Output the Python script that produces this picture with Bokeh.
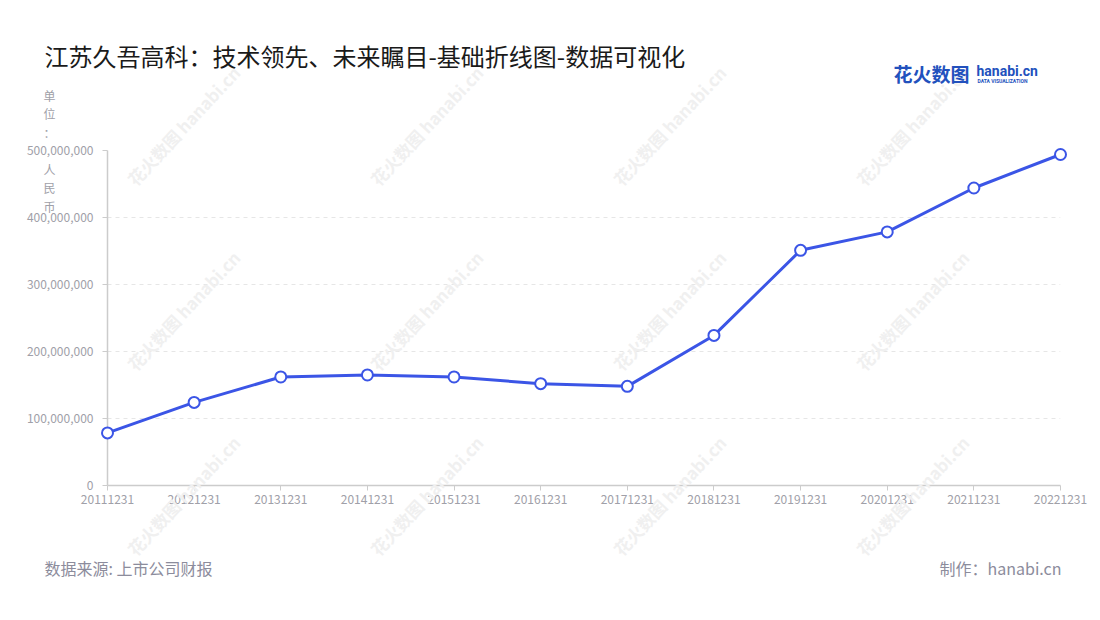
from bokeh.plotting import figure
from bokeh.models import Range1d, FixedTicker, NumeralTickFormatter
from bokeh.core.properties import value
from bokeh.embed import file_html
from bokeh.resources import INLINE
import math

# ---- data ----
dates = ["20111231", "20121231", "20131231", "20141231", "20151231", "20161231",
         "20171231", "20181231", "20191231", "20201231", "20211231", "20221231"]
revenue = [78.5e6, 124e6, 162e6, 165e6, 162e6, 152e6,
           148e6, 224e6, 351e6, 378.5e6, 444e6, 494e6]
y_ticks = [0, 100e6, 200e6, 300e6, 400e6, 500e6]
y_max = 500e6

title_text = "江苏久吾高科：技术领先、未来瞩目-基础折线图-数据可视化"
unit_text = "单\n位\n：\n \n人\n民\n币"
source_text = "数据来源: 上市公司财报"
maker_text = "制作：hanabi.cn"

FONT = "Noto Sans CJK SC"
BLUE = "#3b55e6"
GRAY = "#a0a0a8"

W, H = 1100, 620
FL, FR, FT, FB = 107, 1060, 150, 485   # frame box in page coords

p = figure(width=W, height=H, output_backend="svg", toolbar_location=None,
           x_range=Range1d(0, len(dates) - 1), y_range=Range1d(0, y_max),
           min_border_left=FL, min_border_right=W - FR,
           min_border_top=FT, min_border_bottom=H - FB)
p.outline_line_color = None
p.background_fill_color = "white"
p.border_fill_color = "white"

# axes
p.xaxis.ticker = FixedTicker(ticks=list(range(len(dates))))
p.xaxis.major_label_overrides = {i: d for i, d in enumerate(dates)}
p.yaxis.ticker = FixedTicker(ticks=y_ticks)
p.yaxis.formatter = NumeralTickFormatter(format="0,0")
for ax in (p.xaxis, p.yaxis):
    ax.axis_line_color = "#cccccc"
    ax.axis_line_width = 1.5
    ax.major_tick_line_color = "#cccccc"
    ax.major_tick_in = 0
    ax.major_tick_out = 5
    ax.minor_tick_line_color = None
    ax.major_label_text_font = FONT
    ax.major_label_text_font_size = "12px"
    ax.major_label_text_color = GRAY
p.xaxis.major_label_standoff = 4
p.yaxis.major_label_standoff = 9

p.xgrid.visible = False
p.ygrid.grid_line_color = "#e6e6e6"
p.ygrid.grid_line_dash = "4 4"
p.ygrid.grid_line_width = 1.2

XS = (len(dates) - 1) / (FR - FL)
YS = y_max / (FB - FT)


def dpos(px, py):
    # page pixel -> data coordinates (for placing decorative texts)
    return (px - FL) * XS, (FB - py) * YS


def add_text(px, py, text, font=FONT, size="12px", color=GRAY, align="left",
             baseline="middle", style="normal", angle=0.0, line_height=1.2):
    x, y = dpos(px, py)
    p.text(x=[x], y=[y], text=[text], text_font=value(font), text_font_size=value(size),
           text_color=color, text_align=align, text_baseline=baseline,
           text_font_style=style, angle=angle, text_line_height=line_height,
           level="overlay")


# watermarks
for i in range(4):
    for j in range(3):
        add_text(183 + 243 * i, 125 + 185 * j, "花火数图 hanabi.cn", size="17px",
                 color="#f0f0f0", align="center", style="bold", angle=math.radians(47))

xs = list(range(len(dates)))
p.line(xs, revenue, line_color=BLUE, line_width=3, level="overlay")
p.scatter(xs, revenue, marker="circle", size=11, fill_color="white",
          line_color=BLUE, line_width=2, level="overlay")

# title
add_text(44, 55, title_text, size="24px", color="#1a1a1a")

# unit label (vertical)
add_text(49, 86, unit_text, size="12px", color=GRAY, align="center",
         baseline="top", line_height=1.09)

# footer
add_text(44, 567, source_text, size="16px", color="#8c8c9c")
add_text(1061, 567, maker_text, size="16px", color="#8c8c9c", align="right")

# logo
add_text(893, 73, "花火数图", size="19px", color="#2251bd", style="bold")
add_text(976, 70, "hanabi.cn", font="Roboto", size="14px", color="#2251bd", style="bold")
add_text(977, 80, "DATA VISUALIZATION", font="Roboto", size="5px", color="#2251bd",
         style="bold")

open("out.html", "w").write(file_html(p, INLINE))
